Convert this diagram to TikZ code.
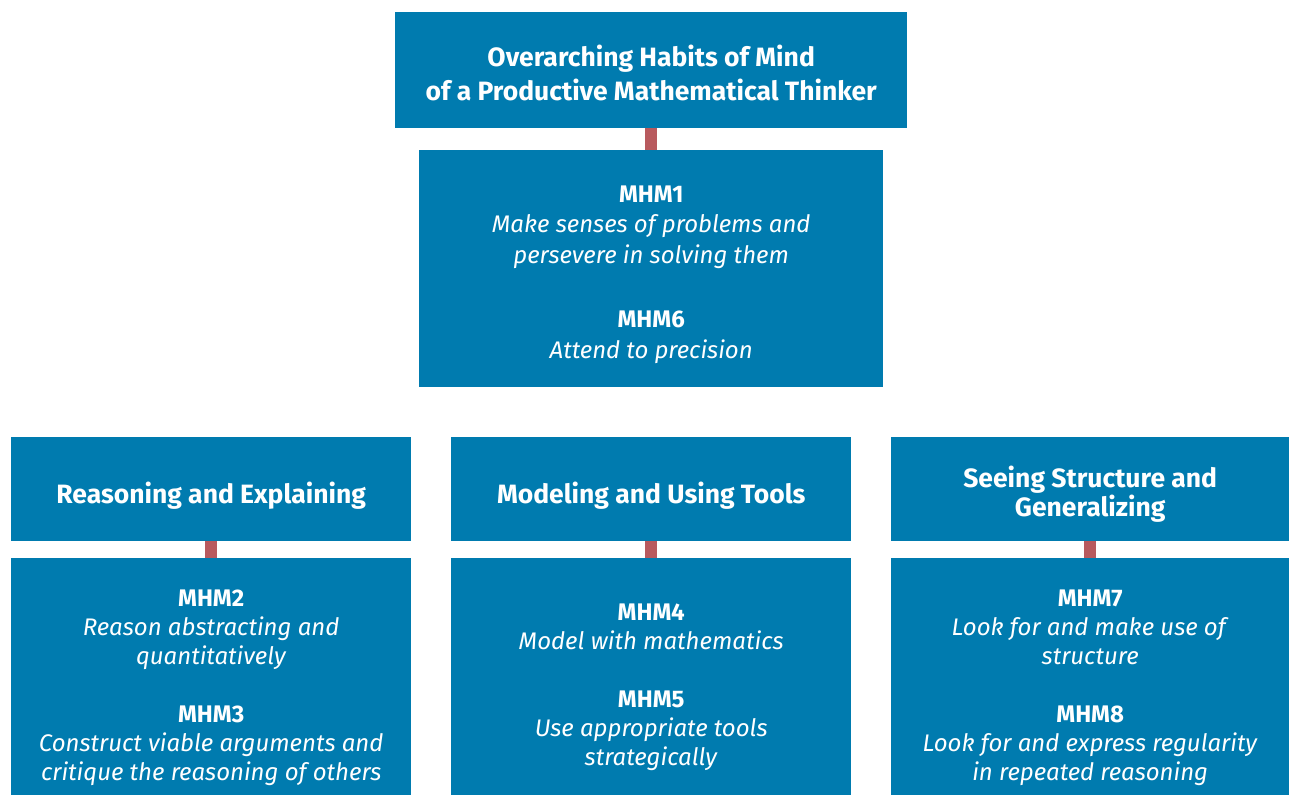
\documentclass[tikz,border=0pt]{standalone}
\usepackage{fontspec}
\setmainfont{Fira Sans}
\definecolor{boxblue}{RGB}{0,123,175}
\definecolor{linkred}{RGB}{184,90,94}
\begin{document}
\begin{tikzpicture}[x=1pt,y=-1pt,
  box/.style={fill=boxblue,draw=none,inner sep=0pt,anchor=north west},
  txt/.style={inner sep=0pt,text=white,align=center},
  headtxt/.style={txt,font=\fontsize{26.5}{34}\selectfont\bfseries},
  bodytxt/.style={txt,font=\fontsize{24}{29.5}\selectfont},
  mh/.style={font=\fontsize{24}{29.5}\selectfont\bfseries},
  link/.style={draw=linkred,line width=12pt}]
\useasboundingbox (0,0) rectangle (1289,795);
% boxes
\node[box,minimum width=512pt,minimum height=116pt] (top) at (395,12) {};
\node[box,minimum width=464pt,minimum height=237pt] (core) at (419,150) {};
\node[box,minimum width=400pt,minimum height=104pt] (h1) at (11,437) {};
\node[box,minimum width=400pt,minimum height=104pt] (h2) at (451,437) {};
\node[box,minimum width=398pt,minimum height=104pt] (h3) at (891,437) {};
\node[box,minimum width=400pt,minimum height=237pt] (b1) at (11,558) {};
\node[box,minimum width=400pt,minimum height=237pt] (b2) at (451,558) {};
\node[box,minimum width=398pt,minimum height=237pt] (b3) at (891,558) {};
% texts
\node[headtxt] (topt) at ([yshift=-3pt]top.center)
  {Overarching Habits of Mind\\of a Productive Mathematical Thinker};
\node[bodytxt,font=\fontsize{24}{30.5}\selectfont] (coret) at ([yshift=-6pt]core.center)
  {{\bfseries MHM1}\\\textit{Make senses of problems and}\\\textit{persevere in solving them}\\[34pt]{\bfseries MHM6}\\\textit{Attend to precision}};
\node[headtxt] (h1t) at ([yshift=-6pt]h1.center) {Reasoning and Explaining};
\node[headtxt] (h2t) at ([yshift=-6pt]h2.center) {Modeling and Using Tools};
\node[headtxt,font=\fontsize{26.5}{28.5}\selectfont\bfseries] (h3t) at ([yshift=-5pt]h3.center)
  {Seeing Structure and\\Generalizing};
\node[bodytxt,font=\fontsize{24}{29}\selectfont] (b1t) at ([yshift=-11pt]b1.center)
  {{\bfseries MHM2}\\\textit{Reason abstracting and}\\\textit{quantitatively}\\[29pt]{\bfseries MHM3}\\\textit{Construct viable arguments and}\\\textit{critique the reasoning of others}};
\node[bodytxt,font=\fontsize{24}{29}\selectfont] (b2t) at ([yshift=-11pt]b2.center)
  {{\bfseries MHM4}\\\textit{Model with mathematics}\\[29pt]{\bfseries MHM5}\\\textit{Use appropriate tools}\\\textit{strategically}};
\node[bodytxt,font=\fontsize{24}{29}\selectfont] (b3t) at ([yshift=-11pt]b3.center)
  {{\bfseries MHM7}\\\textit{Look for and make use of}\\\textit{structure}\\[29pt]{\bfseries MHM8}\\\textit{Look for and express regularity}\\\textit{in repeated reasoning}};
% links
\draw[link] (top.south) -- (core.north);
\draw[link] (h1.south) -- (b1.north);
\draw[link] (h2.south) -- (b2.north);
\draw[link] (h3.south) -- (b3.north);
\end{tikzpicture}
\end{document}
